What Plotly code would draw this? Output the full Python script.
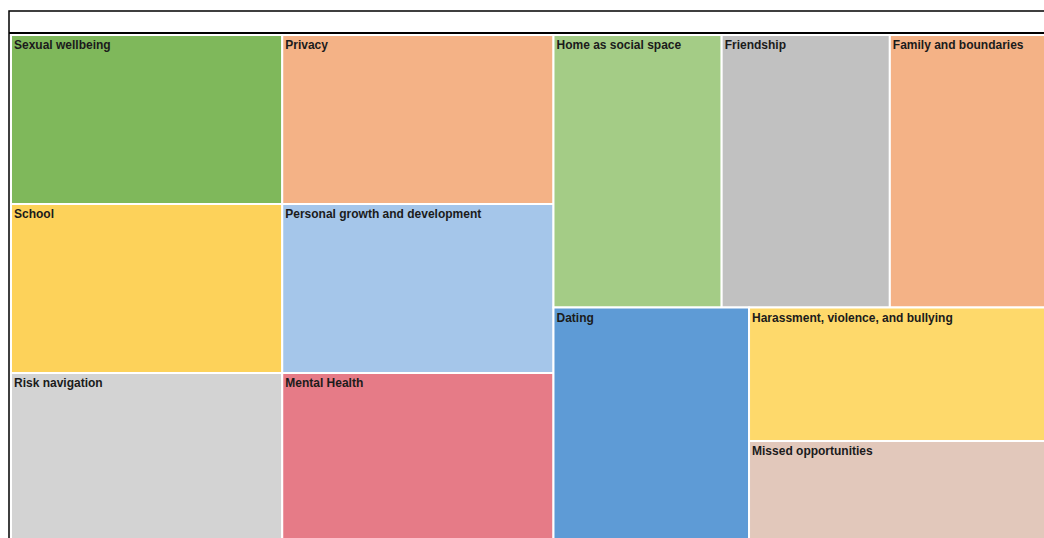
import plotly.graph_objects as go

# Data
categories = [
    "Sexual wellbeing", "School", "Risk navigation",
    "Privacy", "Personal growth and development", "Mental Health",
    "Home as social space", "Friendship", "Family and boundaries",
    "Dating", "Harassment, violence, and bullying", "Missed opportunities",
]
values = [1.0, 1.0, 1.0, 1.0, 1.0, 1.0, 1.0, 1.0, 1.0, 1.0, 0.9, 0.68]
colors = [
    "#7fb85b", "#fdd25a", "#d3d3d3",
    "#f4b286", "#a5c6ea", "#e67b87",
    "#a4cc86", "#c1c1c1", "#f4b286",
    "#5e9bd6", "#fed96b", "#e2c8bb",
]

ids = ["root"] + categories
labels = [" "] + categories
parents = [""] + ["root"] * len(categories)
vals = [sum(values)] + values
fill = ["white"] + colors
line_colors = ["black"] + ["white"] * len(categories)
line_widths = [1.5] + [2] * len(categories)

fig = go.Figure(go.Treemap(
    ids=ids,
    labels=labels,
    parents=parents,
    values=vals,
    branchvalues="total",
    sort=False,
    marker=dict(
        colors=fill,
        line=dict(color=line_colors, width=line_widths),
        pad=dict(t=24, l=2, r=2, b=2),
        depthfade=False,
    ),
    tiling=dict(packing="squarify", squarifyratio=1.618, pad=0),
    pathbar=dict(visible=False),
    textinfo="label",
    textposition="top left",
    textfont=dict(family="Liberation Sans, Arial, sans-serif", size=12,
                  color="#1b1b1b", weight="bold"),
    hoverinfo="label",
))

fig.update_layout(
    width=1060, height=544,
    margin=dict(l=9, r=0, t=11, b=0),
    paper_bgcolor="white",
    shapes=[dict(type="line", xref="paper", yref="paper",
                 x0=0, x1=1, y0=-22, y1=-22, ysizemode="pixel", yanchor=1,
                 line=dict(color="black", width=2))],
)

fig.write_html(
    "out.html",
    config={"displayModeBar": False},
    post_script="document.body.style.margin='0';"
                "document.documentElement.style.overflow='hidden';"
                "document.body.style.overflow='hidden';",
)
